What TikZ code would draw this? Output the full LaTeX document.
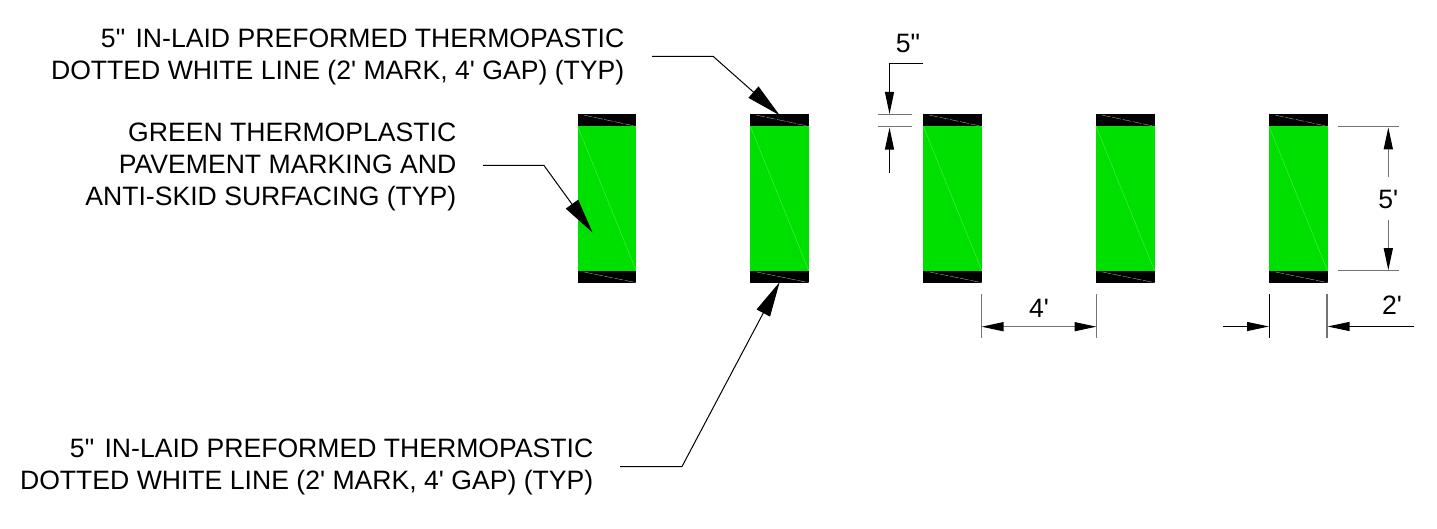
\documentclass[tikz,border=0pt]{standalone}
\usepackage{fontspec}
\newfontfamily\plainsans{Liberation Sans}
\usetikzlibrary{arrows.meta}
\definecolor{markgreen}{RGB}{0,224,0}
\tikzset{
  greenbar/.style={fill=markgreen,draw=none,minimum width=58.6pt,minimum height=144.7pt,inner sep=0pt,outer sep=0pt},
  blackbar/.style={fill=black,draw=none,minimum width=58.6pt,minimum height=12pt,inner sep=0pt,outer sep=0pt},
  seam/.style={draw=white,line width=0.3pt,opacity=0.4},
  bardash/.style={draw=white,line width=0.35pt,opacity=0.7,dash pattern=on 9pt off 1.5pt},
  leader/.style={draw=black,line width=1pt,-{Triangle[length=35pt,width=15pt]}},
  dimline/.style={draw=black,line width=1.1pt,-{Triangle[length=22pt,width=9pt]}},
  dimgray/.style={draw=black!55,line width=1.3pt,-{Triangle[length=22pt,width=9pt,black]}},
  extline/.style={draw=black,line width=1.1pt},
  extgray/.style={draw=black!55,line width=1.4pt},
  note/.style={font=\plainsans\fontsize{26.6}{32.2}\selectfont,align=right,anchor=base east,inner sep=0pt},
  dimtext/.style={font=\plainsans\fontsize{26.6}{30}\selectfont,inner sep=0pt}
}
\begin{document}
\begin{tikzpicture}[x=1pt,y=-1pt]
\useasboundingbox (0,0) rectangle (1437,529);
\foreach \i/\x in {1/607,2/779.65,3/952.65,4/1125.35,5/1298.35}{
  \node[greenbar] (g\i) at (\x,198.7) {};
  \node[blackbar] (t\i) at (\x,120.3) {};
  \node[blackbar] (b\i) at (\x,277.1) {};
  \draw[seam] (g\i.north west) -- (g\i.south east);
  \draw[bardash] ([xshift=6pt,yshift=-0.8pt]t\i.north west) -- (t\i.south east);
  \draw[bardash] ([xshift=6pt,yshift=-0.8pt]b\i.north west) -- ([yshift=0.4pt]b\i.south east);
}
% notes
\node[note] (n1) at (624.5,79.5) {5"\kern3pt{} IN-LAID PREFORMED THERMOPASTIC\\DOTTED WHITE LINE (2' MARK, 4' GAP) (TYP)};
\node[note] (n2) at (456.5,205.7) {GREEN THERMOPLASTIC\\PAVEMENT MARKING AND\\ANTI-SKID SURFACING (TYP)};
\node[note] (n3) at (593.5,489.3) {5"\kern3pt{} IN-LAID PREFORMED THERMOPASTIC\\DOTTED WHITE LINE (2' MARK, 4' GAP) (TYP)};
% leaders
\coordinate (l1a) at (652,56.5);
\coordinate (l1b) at (713.3,56.5);
\draw[leader] (l1a) -- (l1b) -- ([yshift=-1pt]t2.north);
\coordinate (l2a) at (483,165.5);
\coordinate (l2b) at (544,165.5);
\coordinate (l2c) at (592.5,232.5);
\draw[leader] (l2a) -- (l2b) -- (l2c);
\coordinate (l3a) at (620,466.5);
\coordinate (l3b) at (682,466.5);
\draw[leader] (l3a) -- (l3b) -- ([yshift=1pt]b2.south);
% 5 inch dimension
\coordinate (e1a) at (878,114.8); \coordinate (e1b) at (912,114.8);
\coordinate (e2a) at (878,126.8); \coordinate (e2b) at (912,126.8);
\draw[extgray] (e1a) -- (e1b);
\draw[extgray] (e2a) -- (e2b);
\coordinate (d1a) at (922.7,63.5); \coordinate (d1b) at (889.5,63.5);
\coordinate (d1c) at (889.5,114);
\draw[dimline] (d1a) -- (d1b) -- (d1c);
\coordinate (d2a) at (889.5,172.7); \coordinate (d2b) at (889.5,127.6);
\draw[dimline] (d2a) -- (d2b);
\node[dimtext] (inch) at (908,43) {5"};
% 5 ft dimension
\coordinate (e3a) at (1338,126.7); \coordinate (e3b) at (1399,126.7);
\coordinate (e4a) at (1338,270.7); \coordinate (e4b) at (1399,270.7);
\draw[extgray] (e3a) -- (e3b);
\draw[extgray] (e4a) -- (e4b);
\node[dimtext] (five) at (1388.3,199) {5'};
\coordinate (d3a) at (1388.3,177.5); \coordinate (d3b) at (1388.3,127.3);
\coordinate (d4a) at (1388.3,220); \coordinate (d4b) at (1388.3,270.2);
\draw[dimgray] (d3a) -- (d3b);
\draw[dimgray] (d4a) -- (d4b);
% 4 ft dimension
\coordinate (e5a) at (981.5,294); \coordinate (e5b) at (981.5,338);
\coordinate (e6a) at (1096.5,294); \coordinate (e6b) at (1096.5,338);
\draw[extgray,line width=1.1pt] (e5a) -- (e5b);
\draw[extgray,line width=1.1pt] (e6a) -- (e6b);
\node[dimtext] (four) at (1039,308) {4'};
\draw[dimgray,{Triangle[length=22pt,width=9pt,black]}-{Triangle[length=22pt,width=9pt,black]}] (e5a |- 0,326.7) -- (e6a |- 0,326.7);
% 2 ft dimension
\coordinate (e7a) at (1269.5,294); \coordinate (e7b) at (1269.5,338);
\coordinate (e8a) at (1327,294); \coordinate (e8b) at (1327,338);
\draw[extline] (e7a) -- (e7b);
\draw[extgray] (e8a) -- (e8b);
\coordinate (d5a) at (1223,326.5); \coordinate (d5b) at (1269,326.5);
\coordinate (d6a) at (1414,326.5); \coordinate (d6b) at (1327.5,326.5);
\draw[dimline] (d5a) -- (d5b);
\draw[dimline] (d6a) -- (d6b);
\node[dimtext] (two) at (1392,305) {2'};
\end{tikzpicture}
\end{document}
